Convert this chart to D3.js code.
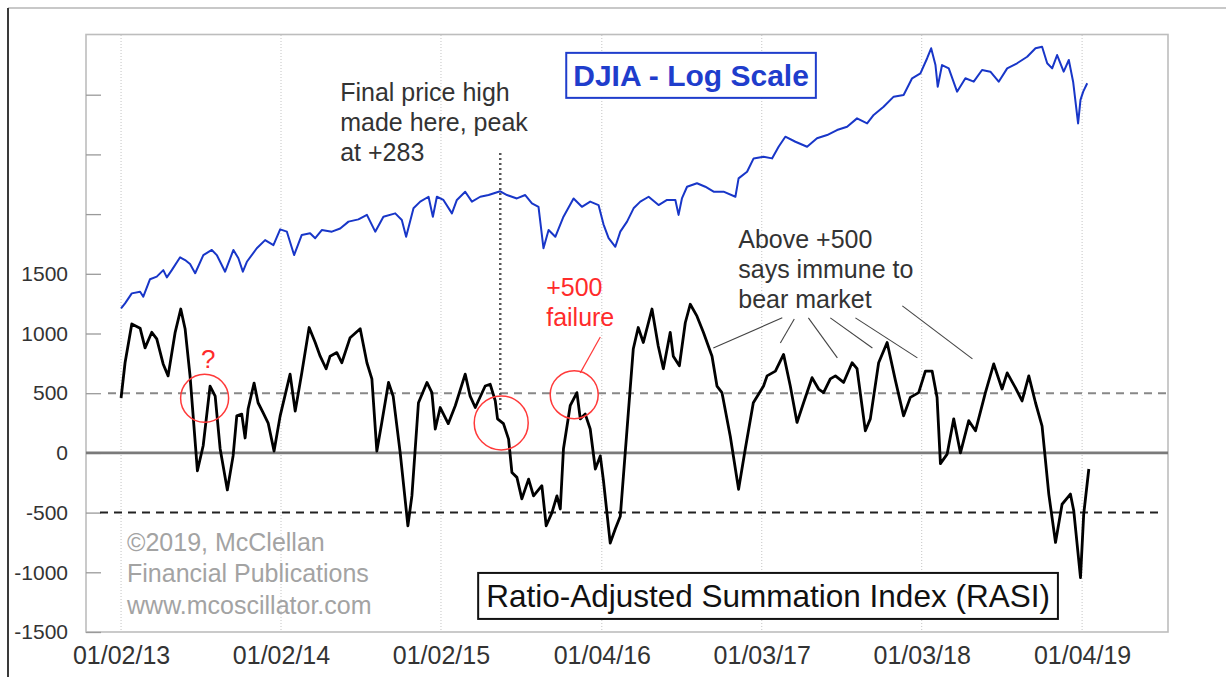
<!DOCTYPE html>
<html>
  <head>
    <meta charset="utf-8">
    <title>RASI and DJIA</title>
    <style>
      body { margin: 0; background: #fff; }
      svg text { font-family: "Liberation Sans", Arial, sans-serif; }
    </style>
  </head>
  <body>
    <div class="chart-area"></div>

    <script src="https://d3js.org/d3.v7.min.js"></script>
    <script>
        // bottom axis labels = first trading day of each year
        var xTickLabels = ["01/02/13", "01/02/14", "01/02/15", "01/04/16", "01/03/17", "01/03/18", "01/04/19"];
        // left axis ticks (only the ones up to 1500 get a number)
        var yTickValues = [-1500, -1000, -500, 0, 500, 1000, 1500, 2000, 2500, 3000];
        var yLabelMax = 1500;
        var refLevels = [500, 0, -500];

        // RASI (decimal year, index value)
        var rasiYears = [2013.000, 2013.025, 2013.067, 2013.119, 2013.150, 2013.192, 2013.223, 2013.263, 2013.294, 2013.338,
            2013.373, 2013.400, 2013.431, 2013.477, 2013.513, 2013.556, 2013.588, 2013.619, 2013.664, 2013.700,
            2013.723, 2013.754, 2013.775, 2013.794, 2013.831, 2013.856, 2013.888, 2013.919, 2013.956, 2013.994,
            2014.056, 2014.088, 2014.129, 2014.175, 2014.213, 2014.244, 2014.281, 2014.306, 2014.348, 2014.379,
            2014.431, 2014.494, 2014.536, 2014.567, 2014.598, 2014.629, 2014.671, 2014.700, 2014.744, 2014.792,
            2014.817, 2014.858, 2014.911, 2014.942, 2014.963, 2014.994, 2015.044, 2015.088, 2015.150, 2015.181,
            2015.213, 2015.275, 2015.306, 2015.338, 2015.352, 2015.389, 2015.421, 2015.442, 2015.473, 2015.504,
            2015.546, 2015.577, 2015.629, 2015.656, 2015.692, 2015.723, 2015.744, 2015.764, 2015.806, 2015.848,
            2015.869, 2015.900, 2015.931, 2015.963, 2015.994, 2016.014, 2016.056, 2016.088, 2016.119, 2016.169,
            2016.200, 2016.231, 2016.263, 2016.317, 2016.356, 2016.388, 2016.431, 2016.450, 2016.488, 2016.525,
            2016.556, 2016.598, 2016.638, 2016.692, 2016.723, 2016.754, 2016.806, 2016.858, 2016.900, 2016.950,
            2017.014, 2017.036, 2017.088, 2017.139, 2017.181, 2017.223, 2017.264, 2017.317, 2017.358, 2017.389,
            2017.431, 2017.463, 2017.514, 2017.567, 2017.598, 2017.650, 2017.681, 2017.733, 2017.786, 2017.838,
            2017.889, 2017.931, 2017.983, 2018.025, 2018.067, 2018.098, 2018.119, 2018.161, 2018.202, 2018.244,
            2018.296, 2018.338, 2018.400, 2018.452, 2018.504, 2018.536, 2018.588, 2018.629, 2018.671, 2018.713,
            2018.754, 2018.796, 2018.838, 2018.879, 2018.931, 2018.952, 2018.994, 2019.014, 2019.046];
        var rasiValues = [460, 755, 1080, 1045, 880, 1010, 955, 745, 645, 1010,
            1205, 1040, 645, -150, 60, 560, 475, 35, -310, -25,
            310, 325, 125, 370, 585, 420, 335, 250, 15, 310,
            660, 350, 670, 1050, 925, 810, 705, 810, 840, 755,
            965, 1040, 755, 620, 15, 255, 590, 475, 0, -610,
            -360, 420, 590, 505, 200, 380, 245, 395, 660, 475,
            380, 560, 575, 435, 285, 245, 115, -165, -205, -385,
            -220, -360, -275, -610, -500, -360, -470, 35, 395, 505,
            285, 325, 200, -135, -25, -235, -755, -635, -530, 335,
            870, 1050, 925, 1205, 895, 705, 1010, 810, 730, 1090,
            1245, 1145, 1010, 810, 560, 505, 140, -305, 35, 420,
            560, 645, 685, 825, 560, 255, 420, 630, 535, 505,
            620, 645, 590, 755, 705, 185, 285, 755, 925, 605,
            310, 465, 505, 685, 685, 465, -90, -10, 285, 0,
            270, 185, 505, 745, 535, 670, 545, 435, 645, 420,
            225, -345, -750, -430, -345, -485, -1045, -515, -135];

        // DJIA (log scale, no axis of its own)
        var djiaYears = [2013.000, 2013.025, 2013.067, 2013.119, 2013.139, 2013.181, 2013.223, 2013.264, 2013.286, 2013.317,
            2013.369, 2013.400, 2013.431, 2013.463, 2013.514, 2013.567, 2013.598, 2013.650, 2013.702, 2013.733,
            2013.761, 2013.786, 2013.848, 2013.900, 2013.952, 2013.994, 2014.036, 2014.081, 2014.129, 2014.181,
            2014.213, 2014.254, 2014.317, 2014.369, 2014.421, 2014.483, 2014.536, 2014.588, 2014.639, 2014.713,
            2014.754, 2014.781, 2014.827, 2014.869, 2014.921, 2014.948, 2014.973, 2015.014, 2015.067, 2015.098,
            2015.150, 2015.192, 2015.244, 2015.296, 2015.369, 2015.411, 2015.473, 2015.525, 2015.567, 2015.608,
            2015.639, 2015.671, 2015.713, 2015.764, 2015.827, 2015.879, 2015.931, 2015.983, 2016.014, 2016.046,
            2016.088, 2016.119, 2016.161, 2016.202, 2016.244, 2016.296, 2016.358, 2016.411, 2016.463, 2016.483,
            2016.504, 2016.536, 2016.598, 2016.650, 2016.702, 2016.764, 2016.838, 2016.858, 2016.911, 2016.952,
            2017.014, 2017.067, 2017.108, 2017.150, 2017.213, 2017.286, 2017.348, 2017.411, 2017.473, 2017.536,
            2017.598, 2017.661, 2017.702, 2017.764, 2017.827, 2017.889, 2017.942, 2017.994, 2018.036, 2018.061,
            2018.088, 2018.102, 2018.129, 2018.171, 2018.223, 2018.275, 2018.327, 2018.379, 2018.431, 2018.483,
            2018.536, 2018.598, 2018.661, 2018.713, 2018.754, 2018.786, 2018.817, 2018.848, 2018.889, 2018.921,
            2018.948, 2018.979, 2018.994, 2019.011, 2019.036];
        var djiaValues = [13410, 13590, 13950, 14010, 13830, 14480, 14580, 14830, 14550, 14830,
            15340, 15230, 15070, 14710, 15430, 15640, 15430, 14770, 15640, 15300,
            14770, 15160, 15710, 16050, 15840, 16510, 16410, 15430, 16270, 16340,
            16130, 16480, 16410, 16550, 16850, 16950, 17150, 16410, 17070, 17220,
            16920, 16190, 17450, 17760, 17990, 17070, 17990, 17840, 17220, 17840,
            18230, 17760, 17990, 18070, 18250, 18070, 17910, 18070, 17680, 17520,
            15710, 16480, 16190, 17070, 17910, 17520, 17760, 17600, 16730, 16130,
            15770, 16410, 16850, 17450, 17760, 17990, 17600, 17840, 17840, 17150,
            17910, 18470, 18640, 18470, 18230, 18230, 17990, 18880, 19210, 19900,
            19990, 19900, 20520, 21070, 20790, 20520, 20980, 21160, 21440, 21630,
            22110, 21820, 22310, 22800, 23410, 23510, 24570, 24890, 25900, 26590,
            25440, 24030, 25440, 25220, 23720, 24570, 24350, 25110, 25000, 24350,
            25220, 25560, 26000, 26590, 26700, 25560, 25220, 26120, 25000, 25780,
            24350, 21820, 23210, 23720, 24250];

        // set the dimensions and margins of the graph
        var margin = {top: 35, left: 86},
            width = 1082,
            height = 597;

        var svg = d3.select(".chart-area")
            .append("svg")
            .attr("width", 1226)
            .attr("height", 677);

        // frame of the picture: grey top edge, dark left edge
        svg.append("line")
            .attr("x1", 8).attr("x2", 1226).attr("y1", 8).attr("y2", 8)
            .attr("stroke", "#c8c8c8").attr("stroke-width", 2);
        svg.append("line")
            .attr("x1", 8).attr("x2", 8).attr("y1", 8).attr("y2", 677)
            .attr("stroke", "#3a3a3a").attr("stroke-width", 2);

        var g = svg.append("g")
            .attr("transform", "translate(" + margin.left + "," + margin.top + ")");

        var parseTick = d3.timeParse("%m/%d/%y");
        var tickDates = xTickLabels.map(parseTick);
        var t0 = tickDates[0];
        function yearToDate(yr) {
            return new Date(t0.getTime() + (yr - 2013) * 365.25 * 864e5);
        }

        var x = d3.scaleTime()
            .domain([d3.timeDay.offset(t0, -80), d3.timeDay.offset(tickDates[tickDates.length - 1], 196)])
            .range([0, width]);
        var y = d3.scaleLinear()
            .domain([-1500, 3500])
            .range([height, 0]);
        var yDjia = d3.scaleLog()
            .domain([10000, 30000])
            .range([384.9, -32.6]);

        function px(yr) { return x(yearToDate(yr)); }

        // dotted year grid
        g.append("g")
            .selectAll("line")
            .data(tickDates)
            .enter().append("line")
                .attr("x1", d => x(d)).attr("x2", d => x(d))
                .attr("y1", 0).attr("y2", height)
                .attr("stroke", "#c4c4c4")
                .attr("stroke-width", 1)
                .attr("stroke-dasharray", "1,2");

        // plot border
        g.append("rect")
            .attr("x", 0).attr("y", -0.5)
            .attr("width", width).attr("height", height + 0.5)
            .attr("fill", "none")
            .attr("stroke", "#bdbdbd")
            .attr("stroke-width", 1.6);

        // Y axis, ticks pointing into the plot
        var yAxis = g.append("g")
            .call(d3.axisLeft(y)
                .tickValues(yTickValues)
                .tickSize(-15)
                .tickPadding(18)
                .tickFormat(d => d <= yLabelMax ? d : ""));
        yAxis.select(".domain").remove();
        yAxis.selectAll("line").attr("stroke", "#9a9a9a").attr("stroke-width", 1.3);
        yAxis.selectAll("text")
            .attr("font-size", 21)
            .attr("fill", "#333")
            .style("font-family", "'Liberation Sans', Arial, sans-serif");

        // X axis
        var xAxis = g.append("g")
            .attr("transform", "translate(0," + height + ")")
            .call(d3.axisBottom(x)
                .tickValues(tickDates)
                .tickSize(0)
                .tickPadding(14)
                .tickFormat(d3.timeFormat("%m/%d/%y")));
        xAxis.select(".domain").remove();
        xAxis.selectAll("text")
            .attr("font-size", 25)
            .attr("fill", "#333")
            .style("font-family", "'Liberation Sans', Arial, sans-serif");

        // reference levels: +500 grey dashed, zero solid, -500 dark dashed
        var refStyle = {
            "500": {stroke: "#888", dash: "8,6", x1: 22, x2: width},
            "0": {stroke: "#7a7a7a", dash: null, x1: 0, x2: width},
            "-500": {stroke: "#222", dash: "8,6", x1: 14, x2: width - 6}
        };
        g.append("g")
            .selectAll("line")
            .data(refLevels)
            .enter().append("line")
                .attr("x1", d => refStyle[d].x1)
                .attr("x2", d => refStyle[d].x2)
                .attr("y1", d => y(d)).attr("y2", d => y(d))
                .attr("stroke", d => refStyle[d].stroke)
                .attr("stroke-width", d => d === 0 ? 2.6 : 2)
                .attr("stroke-dasharray", d => refStyle[d].dash);

        var djia = djiaYears.map((yr, i) => ({yr: yr, v: djiaValues[i]}));
        var rasi = rasiYears.map((yr, i) => ({yr: yr, v: rasiValues[i]}));

        g.append("path")
            .datum(djia)
            .attr("fill", "none")
            .attr("stroke", "#1836c8")
            .attr("stroke-width", 2)
            .attr("stroke-linejoin", "round")
            .attr("d", d3.line().x(d => px(d.yr)).y(d => yDjia(d.v)));

        g.append("path")
            .datum(rasi)
            .attr("fill", "none")
            .attr("stroke", "#000")
            .attr("stroke-width", 2.8)
            .attr("stroke-linejoin", "round")
            .attr("d", d3.line().x(d => px(d.yr)).y(d => y(d.v)));

        // dotted marker at the final price high
        g.append("line")
            .attr("x1", px(2015.369)).attr("x2", px(2015.369))
            .attr("y1", y(2512)).attr("y2", y(352))
            .attr("stroke", "#555")
            .attr("stroke-width", 2.5)
            .attr("stroke-dasharray", "2,3");

        // red circles and the pointer from "+500 failure"
        var circles = [
            {yr: 2013.522, v: 458, r: 24},
            {yr: 2015.375, v: 251, r: 27},
            {yr: 2015.831, v: 488, r: 24}
        ];
        g.append("g")
            .selectAll("circle")
            .data(circles)
            .enter().append("circle")
                .attr("cx", d => px(d.yr))
                .attr("cy", d => y(d.v))
                .attr("r", d => d.r)
                .attr("fill", "none")
                .attr("stroke", "#ff3a3a")
                .attr("stroke-width", 1.5);
        g.append("line")
            .attr("x1", px(2015.994)).attr("y1", y(971))
            .attr("x2", px(2015.869)).attr("y2", y(670))
            .attr("stroke", "#ff3a3a").attr("stroke-width", 1.2);

        // leader lines from "bear market" down to the peaks
        var leaders = [
            [[2016.700, 879], [2017.131, 1131]],
            [[2017.119, 921], [2017.206, 1122]],
            [[2017.294, 1131], [2017.475, 796]],
            [[2017.431, 1131], [2017.694, 879]],
            [[2017.588, 1131], [2017.975, 796]],
            [[2017.881, 1231], [2018.319, 787]]
        ];
        g.append("g")
            .selectAll("line")
            .data(leaders)
            .enter().append("line")
                .attr("x1", d => px(d[0][0])).attr("y1", d => y(d[0][1]))
                .attr("x2", d => px(d[1][0])).attr("y2", d => y(d[1][1]))
                .attr("stroke", "#444")
                .attr("stroke-width", 1.1);

        // text notes
        var notes = [
            {yr: 2014.369, v: 2948, color: "#333", step: 30, lines: ["Final price high", "made here, peak", "at +283"]},
            {yr: 2016.856, v: 1717, color: "#333", step: 30, lines: ["Above +500", "says immune to", "bear market"]},
            {yr: 2015.656, v: 1315, color: "#ff2b2b", step: 30, lines: ["+500", "failure"]},
            {yr: 2013.0375, v: -821, color: "#a3a3a3", step: 31.5, lines: ["\u00a92019, McClellan", "Financial Publications", "www.mcoscillator.com"]}
        ];
        notes.forEach(function(n) {
            var t = g.append("text")
                .attr("x", px(n.yr))
                .attr("y", y(n.v))
                .attr("font-size", 25)
                .attr("fill", n.color);
            n.lines.forEach(function(line, i) {
                t.append("tspan")
                    .attr("x", px(n.yr))
                    .attr("dy", i === 0 ? 0 : n.step)
                    .text(line);
            });
        });

        g.append("text")
            .attr("x", px(2013.544))
            .attr("y", y(712))
            .attr("text-anchor", "middle")
            .attr("font-size", 26)
            .attr("fill", "#ff2b2b")
            .text("?");

        // boxed labels
        function boxedLabel(yr, v, label, size, weight, color, pad) {
            var t = g.append("text")
                .attr("x", px(yr))
                .attr("y", y(v))
                .attr("font-size", size)
                .attr("font-weight", weight)
                .attr("fill", color)
                .text(label);
            var b = t.node().getBBox();
            g.insert("rect", function() { return t.node(); })
                .attr("x", b.x - pad[0])
                .attr("y", b.y - pad[1])
                .attr("width", b.width + 2 * pad[0])
                .attr("height", b.height + 2 * pad[1])
                .attr("fill", "#fff")
                .attr("stroke", color)
                .attr("stroke-width", 2);
        }
        boxedLabel(2015.825, 3074, "DJIA - Log Scale", 30, "bold", "#1f3dcc", [7, 6]);
        boxedLabel(2015.281, -1290, "Ratio-Adjusted Summation Index (RASI)", 31.5, "normal", "#111", [8, 5]);
    </script>
  </body>
</html>
